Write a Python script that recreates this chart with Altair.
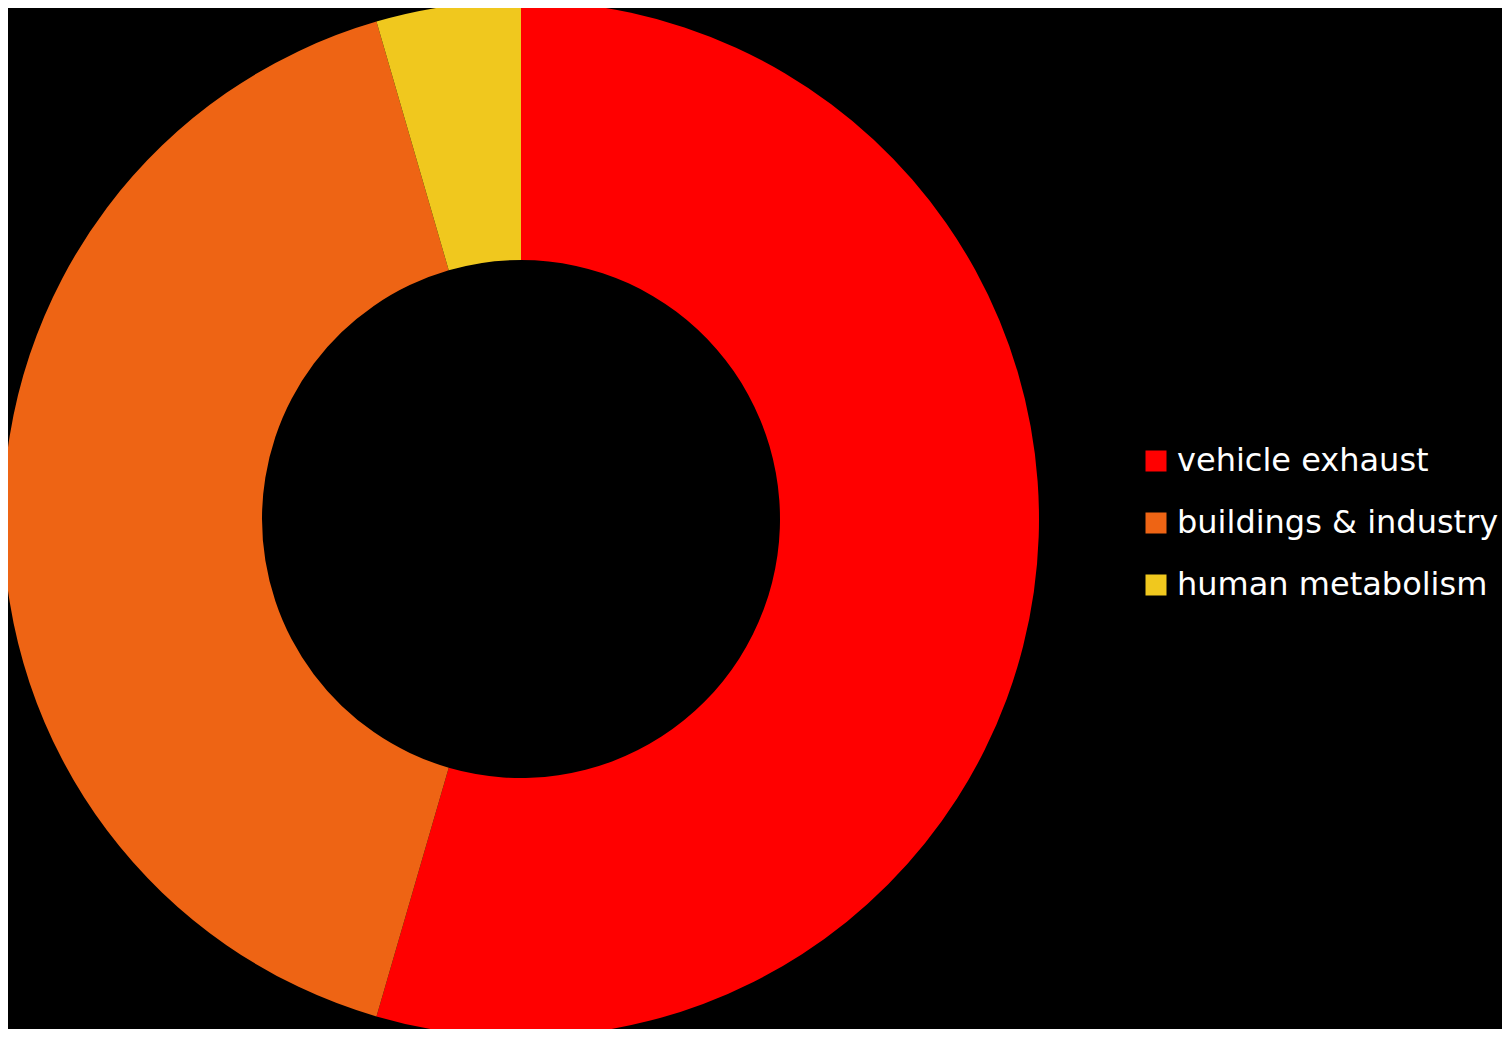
import altair as alt
import pandas as pd

categories = ["vehicle exhaust", "buildings & industry", "human metabolism"]
values = [54.5, 41.0, 4.5]
colors = ["#FF0000", "#EE6414", "#F0C81E"]

df = pd.DataFrame({"source": categories, "value": values, "order": [0, 1, 2]})

chart = (
    alt.Chart(df)
    .mark_arc(outerRadius=518, innerRadius=259, stroke=None)
    .encode(
        theta=alt.Theta("value:Q", stack=True),
        order=alt.Order("order:Q"),
        x=alt.value(513),
        y=alt.value(511),
        color=alt.Color(
            "source:N",
            sort=categories,
            scale=alt.Scale(domain=categories, range=colors),
            legend=alt.Legend(
                title=None,
                orient="none",
                legendX=1132,
                legendY=437,
                symbolType="square",
                symbolSize=441,
                symbolStrokeWidth=0,
                labelFontSize=32,
                labelFont="DejaVu Sans",
                labelColor="white",
                labelLimit=500,
                labelOffset=5,
                rowPadding=30,
            ),
        ),
    )
    .properties(width=1494, height=1021, background="black", padding=0,
                autosize=alt.AutoSizeParams(type="none"))
    .configure_view(stroke=None)
)

chart.save("out.html", embed_options={"renderer": "svg", "actions": False})
